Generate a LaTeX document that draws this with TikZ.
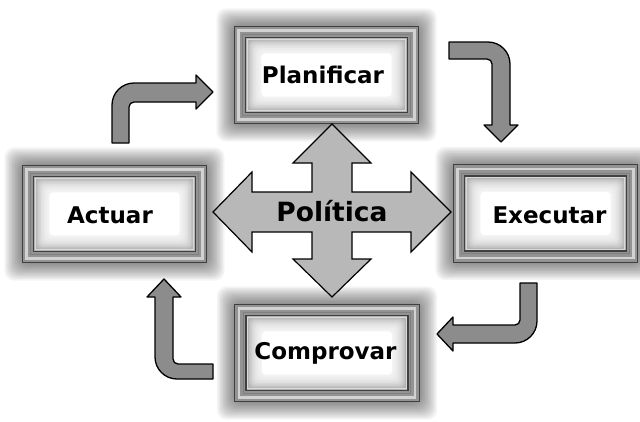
\documentclass[tikz,border=0pt]{standalone}
\usepackage{fontspec}
\setmainfont{DejaVu Sans}
\pgfdeclarelayer{bg}
\pgfsetlayers{bg,main}
\definecolor{bendgray}{gray}{0.55}
\definecolor{crossgray}{gray}{0.72}
\newcommand\pdframe[1]{%
  \foreach \s in {18,16.5,...,1.5}{%
    \fill[black,opacity=0.045,rounded corners=10pt] ([shift={(-\s,-\s)}]#1.north west) rectangle ([shift={(\s,\s)}]#1.south east);
  }
  \filldraw[fill=gray!85,draw=black!75,line width=1.2pt] (#1.north west) rectangle (#1.south east);
  \draw[gray!35,line width=2.5pt] ([shift={(4,4)}]#1.north west) rectangle ([shift={(-4,-4)}]#1.south east);
  \draw[black!50,line width=0.8pt] ([shift={(8.5,8.5)}]#1.north west) rectangle ([shift={(-8.5,-8.5)}]#1.south east);
  \filldraw[fill=gray!60,draw=black!75,line width=1.5pt] ([shift={(11,11)}]#1.north west) rectangle ([shift={(-11,-11)}]#1.south east);
  \draw[gray!30,line width=1pt] ([shift={(13,13)}]#1.north west) rectangle ([shift={(-13,-13)}]#1.south east);
  \foreach \s in {14,15.5,...,26}{%
    \fill[white,opacity=0.2,rounded corners=5pt] ([shift={(\s,\s)}]#1.north west) rectangle ([shift={(-\s,-\s)}]#1.south east);
  }
  \fill[white,rounded corners=4pt] ([shift={(27,27)}]#1.north west) rectangle ([shift={(-27,-27)}]#1.south east);
}
\begin{document}
\begin{tikzpicture}[x=1pt,y=-1pt,
  boxnode/.style={minimum width=184pt,minimum height=97pt,inner sep=0pt},
  lbl/.style={font=\fontsize{23}{26}\selectfont\bfseries,inner sep=0pt,anchor=base},
  bendarrow/.style={fill=bendgray,draw=black,line width=1.3pt,line join=round},
  crossarrow/.style={fill=crossgray,draw=black,line width=1.2pt,line join=miter}]
\useasboundingbox (0,0) rectangle (640,421);
\begin{pgfonlayer}{bg}
  \fill[white] (0,0) rectangle (640,421);
\end{pgfonlayer}

\node[boxnode] (plan) at (326.5,75) {};
\node[boxnode] (act) at (114.5,214) {};
\node[boxnode] (exe) at (545.5,213.5) {};
\node[boxnode] (comp) at (327,353) {};

\begin{pgfonlayer}{bg}
  \pdframe{plan}
  \pdframe{act}
  \pdframe{exe}
  \pdframe{comp}
\end{pgfonlayer}

\node[lbl] (planT) at (323,83) {Planificar};
\node[lbl] (actT) at (110,223) {Actuar};
\node[lbl] (exeT) at (549.5,223) {Executar};
\node[lbl] (compT) at (325.5,359) {Comprovar};

% central cross
\draw[crossarrow] (332,124) -- (371,163) -- (352,163) -- (352,192) -- (411,192) -- (411,172) -- (451,212) -- (411,252) -- (411,232) -- (352,232) -- (352,259) -- (371,259) -- (332,297) -- (293,259) -- (312,259) -- (312,232) -- (252,232) -- (252,252) -- (213,212) -- (252,172) -- (252,192) -- (312,192) -- (312,163) -- (293,163) -- cycle;
\node[font=\fontsize{26.5}{30}\selectfont\bfseries,inner sep=0pt,anchor=base] (pol) at (332,221) {Política};

% curved arrows (R=22, kR=12.15; r=5, kr=2.76)
\draw[bendarrow] (112,143) -- (112,105) .. controls (112,92.85) and (121.85,83) .. (134,83) -- (196,83) -- (196,75) -- (213,92) -- (196,109) -- (196,102) -- (134,102) .. controls (131.24,102) and (129,104.24) .. (129,107) -- (129,143) -- cycle;
\draw[bendarrow] (449,42) -- (488,42) .. controls (500.15,42) and (510,51.85) .. (510,64) -- (510,125) -- (518,125) -- (501,142) -- (484,125) -- (492,125) -- (492,64) .. controls (492,61.24) and (489.76,59) .. (487,59) -- (449,59) -- cycle;
\draw[bendarrow] (520,283) -- (537,283) -- (537,321) .. controls (537,333.15) and (527.15,343) .. (515,343) -- (453,343) -- (453,351) -- (437,334) -- (453,317) -- (453,325) -- (515,325) .. controls (517.76,325) and (520,322.76) .. (520,320) -- cycle;
\draw[bendarrow] (213,364) -- (213,379) -- (177,379) .. controls (164.85,379) and (155,369.15) .. (155,357) -- (155,297) -- (147,297) -- (164,279) -- (181,297) -- (173,297) -- (173,359) .. controls (173,361.76) and (175.24,364) .. (178,364) -- cycle;
\end{tikzpicture}
\end{document}
